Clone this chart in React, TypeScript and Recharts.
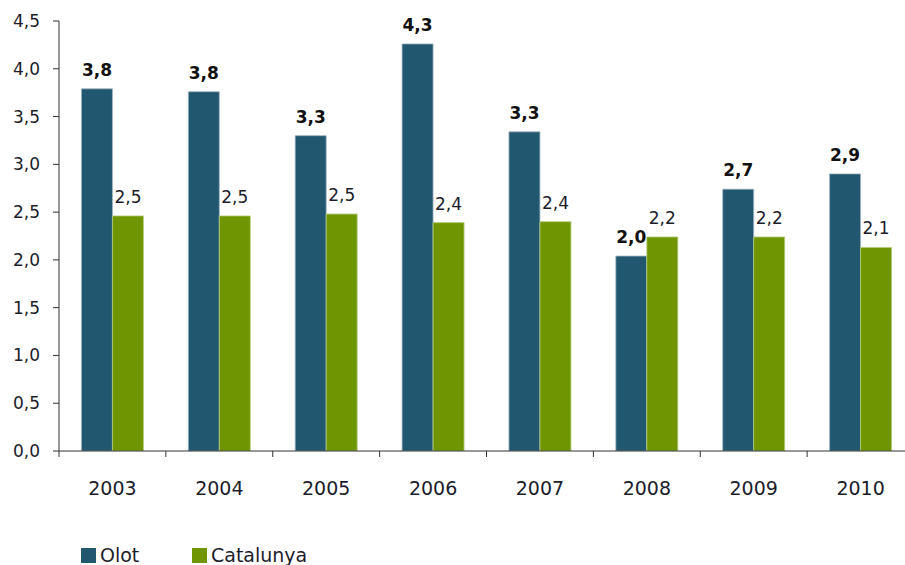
import React from 'react';
import { BarChart, Bar, XAxis, YAxis, LabelList } from 'recharts';

const years = ['2003', '2004', '2005', '2006', '2007', '2008', '2009', '2010'];
const olot = [3.79, 3.76, 3.3, 4.26, 3.34, 2.04, 2.74, 2.9];
const catalunya = [2.46, 2.46, 2.48, 2.39, 2.4, 2.24, 2.24, 2.13];
const yTicks = [0, 0.5, 1, 1.5, 2, 2.5, 3, 3.5, 4, 4.5];

const OLOT_COLOR = '#215870';
const CAT_COLOR = '#6f9600';
const AXIS_COLOR = '#333333';
const TEXT_COLOR = '#1c1c2a';
const FONT = '"DejaVu Sans", Verdana, sans-serif';

const WIDTH = 920;
const HEIGHT = 565;
const MARGIN = { top: 21, right: 6, left: 0, bottom: 84 };
const Y_AXIS_W = 59;
const PLOT_W = WIDTH - MARGIN.left - MARGIN.right - Y_AXIS_W;

const data = years.map((year, i) => ({ year, olot: olot[i], catalunya: catalunya[i] }));

const fmt = (v: number) => Number(v).toFixed(1).replace('.', ',');

const XTick = (props: any) => {
  const { x, y, payload } = props;
  const half = payload?.offset ?? PLOT_W / (2 * years.length);
  const axisY = y - 8;
  return (
    <g>
      <line x1={x - half} x2={x - half} y1={axisY} y2={axisY + 6} stroke={AXIS_COLOR} strokeWidth={1} />
      <text x={x} y={axisY + 44} textAnchor="middle" fill={TEXT_COLOR} fontSize={19} fontFamily={FONT}>
        {payload.value}
      </text>
    </g>
  );
};

const LegendItem = ({ color, label, left }: { color: string; label: string; left: number }) => (
  <div style={{ position: 'absolute', left, top: 545, display: 'flex', alignItems: 'center' }}>
    <span style={{ width: 15, height: 15, background: color, display: 'inline-block', marginRight: 4 }} />
    <span style={{ fontFamily: FONT, fontSize: 19, color: TEXT_COLOR, lineHeight: '20px' }}>{label}</span>
  </div>
);

export default function App() {
  return (
    <div style={{ position: 'fixed', left: 0, top: 0, width: 905, height: 565, overflow: 'hidden', background: '#fff' }}>
      <BarChart width={WIDTH} height={HEIGHT} data={data} margin={MARGIN} barCategoryGap="21%" barGap={0}>
        <XAxis
          dataKey="year"
          axisLine={{ stroke: AXIS_COLOR }}
          tickLine={false}
          tick={<XTick />}
          interval={0}
          height={30}
        />
        <YAxis
          width={Y_AXIS_W}
          domain={[0, 4.5]}
          ticks={yTicks}
          tickFormatter={fmt}
          axisLine={{ stroke: AXIS_COLOR }}
          tickLine={{ stroke: AXIS_COLOR }}
          tickSize={6}
          tickMargin={13}
          tick={{ fill: TEXT_COLOR, fontSize: 17, fontFamily: FONT }}
          allowDataOverflow
        />
        <Bar dataKey="olot" name="Olot" fill={OLOT_COLOR} stroke="#9fb4c0" strokeWidth={0.8} isAnimationActive={false}>
          <LabelList
            dataKey="olot"
            position="top"
            offset={13}
            formatter={(v: any) => fmt(v)}
            style={{ fill: '#111', fontSize: 17, fontWeight: 'bold', fontFamily: FONT }}
          />
        </Bar>
        <Bar dataKey="catalunya" name="Catalunya" fill={CAT_COLOR} stroke="#b7cc80" strokeWidth={0.8} isAnimationActive={false}>
          <LabelList
            dataKey="catalunya"
            position="top"
            offset={13}
            formatter={(v: any) => fmt(v)}
            style={{ fill: TEXT_COLOR, fontSize: 17, fontFamily: FONT }}
          />
        </Bar>
      </BarChart>
      <LegendItem color={OLOT_COLOR} label="Olot" left={81} />
      <LegendItem color={CAT_COLOR} label="Catalunya" left={192} />
    </div>
  );
}
